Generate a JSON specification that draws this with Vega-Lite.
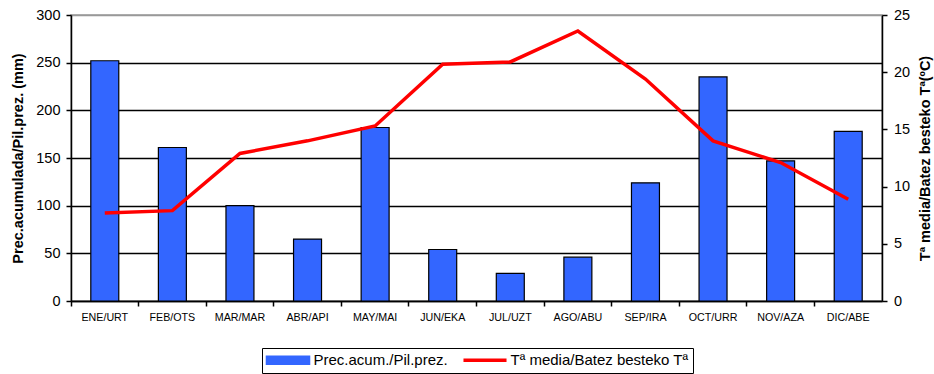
{
  "$schema": "https://vega.github.io/schema/vega-lite/v6.json",
  "width": 811,
  "height": 286,
  "autosize": {"type": "none"},
  "padding": {"left": 71, "top": 15, "right": 52, "bottom": 73},
  "background": "white",
  "config": {
    "font": "Liberation Sans",
    "view": {"stroke": "#999999", "strokeWidth": 1.5},
    "axis": {"domainColor": "black", "tickColor": "black", "labelColor": "black", "titleColor": "black", "domainWidth": 1.5, "tickWidth": 1.5}
  },
  "data": {
    "values": [
      {"mes": "ENE/URT", "prec": 252, "temp": 7.7},
      {"mes": "FEB/OTS", "prec": 161, "temp": 7.9},
      {"mes": "MAR/MAR", "prec": 100, "temp": 12.9},
      {"mes": "ABR/API", "prec": 65, "temp": 14.0},
      {"mes": "MAY/MAI", "prec": 182, "temp": 15.3},
      {"mes": "JUN/EKA", "prec": 54, "temp": 20.7},
      {"mes": "JUL/UZT", "prec": 29, "temp": 20.9},
      {"mes": "AGO/ABU", "prec": 46, "temp": 23.6},
      {"mes": "SEP/IRA", "prec": 124, "temp": 19.4},
      {"mes": "OCT/URR", "prec": 235, "temp": 14.0},
      {"mes": "NOV/AZA", "prec": 147, "temp": 12.1},
      {"mes": "DIC/ABE", "prec": 178, "temp": 8.9}
    ]
  },
  "encoding": {
    "x": {
      "field": "mes",
      "type": "nominal",
      "sort": null,
      "scale": {"paddingInner": 0, "paddingOuter": 0},
      "axis": {"title": null, "labelAngle": 0, "labelFontSize": 10.7, "bandPosition": 0, "tickSize": 5, "labelPadding": 6, "grid": false}
    }
  },
  "layer": [
    {
      "mark": {"type": "bar", "width": {"band": 0.414}, "stroke": "black", "strokeWidth": 1.2},
      "encoding": {
        "y": {
          "field": "prec",
          "type": "quantitative",
          "scale": {"domain": [0, 300], "nice": false},
          "axis": {
            "title": "Prec.acumulada/Pil.prez. (mm)",
            "titleFontSize": 14.5,
            "titleFontWeight": "bold",
            "titlePadding": 10,
            "values": [0, 50, 100, 150, 200, 250, 300],
            "labelFontSize": 14.5,
            "tickSize": 5,
            "labelPadding": 6,
            "grid": true,
            "gridColor": {"condition": {"test": "datum.value === 300", "value": "#999999"}, "value": "black"},
            "gridWidth": 1.4,
            "gridOpacity": 1
          }
        },
        "color": {
          "datum": "Prec.acum./Pil.prez.",
          "scale": {"domain": ["Prec.acum./Pil.prez.", "Tª media/Batez besteko Tª"], "range": ["#3366FF", "#FF0000"]},
          "legend": {
            "title": null,
            "orient": "none",
            "legendX": 191,
            "legendY": 333,
            "direction": "horizontal",
            "strokeColor": "black",
            "padding": 4.5,
            "labelFontSize": 15,
            "labelColor": "black",
            "labelLimit": 400,
            "labelOffset": 18,
            "symbolOffset": 14,
            "columnPadding": 7,
            "symbolSize": 225,
            "symbolOpacity": 1,
            "symbolType": {"expr": "datum.value === 'Prec.acum./Pil.prez.' ? 'M-2.87,-0.53L2.87,-0.53L2.87,0.53L-2.87,0.53Z' : 'M-2.87,0L2.87,0'"},
            "symbolStrokeColor": {"expr": "datum.value === 'Prec.acum./Pil.prez.' ? 'black' : '#FF0000'"},
            "symbolStrokeWidth": {"expr": "datum.value === 'Prec.acum./Pil.prez.' ? 1.5 : 3.5"}
          }
        }
      }
    },
    {
      "mark": {"type": "line", "strokeWidth": 3.5},
      "encoding": {
        "y": {
          "field": "temp",
          "type": "quantitative",
          "scale": {"domain": [0, 25], "nice": false},
          "axis": {
            "orient": "right",
            "title": "Tª media/Batez besteko Tª(ºC)",
            "titleAngle": -90,
            "titleBaseline": "top",
            "titleFontSize": 14.5,
            "titleFontWeight": "bold",
            "titlePadding": 9,
            "values": [0, 5, 10, 15, 20, 25],
            "labelFontSize": 14.5,
            "tickSize": 5,
            "labelPadding": 6.5,
            "grid": false
          }
        },
        "color": {"datum": "Tª media/Batez besteko Tª", "legend": null}
      }
    }
  ],
  "resolve": {"scale": {"y": "independent"}}
}
